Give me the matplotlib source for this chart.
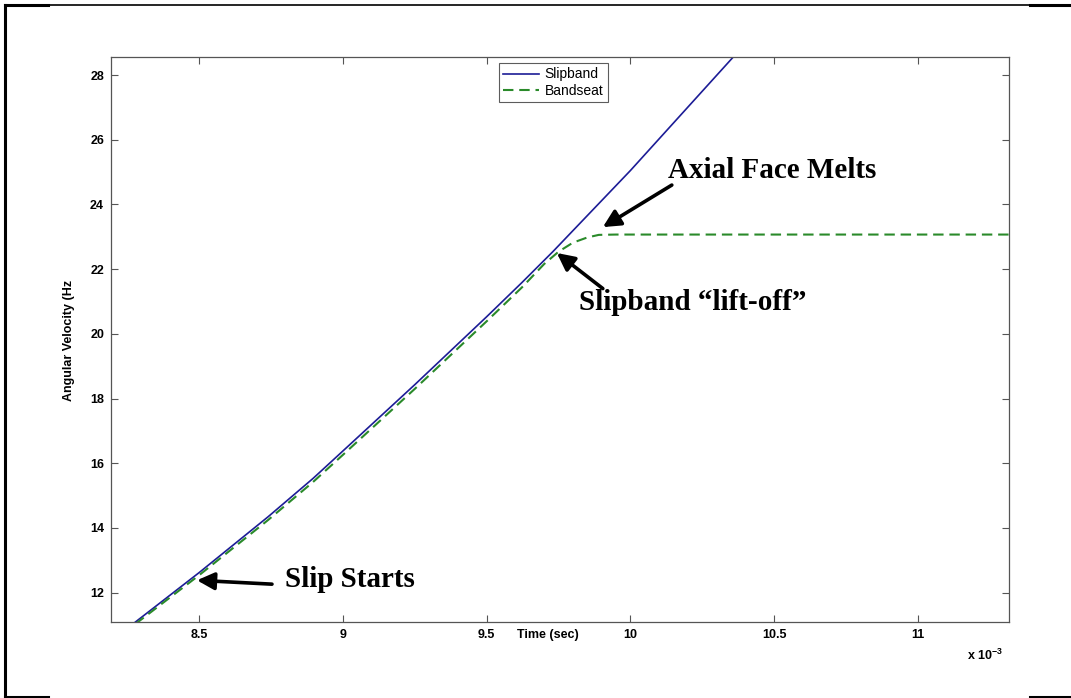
import matplotlib
matplotlib.use("Agg")
import matplotlib.pyplot as plt
from matplotlib.lines import Line2D

# --- data (time in units of 1e-3 s, angular velocity in Hz) ---------------------------
t_slipband = [8.278, 8.50, 8.739, 8.896, 9.00, 9.25, 9.50, 9.623, 9.73, 10.00, 10.37]
w_slipband = [11.09, 12.62, 14.34, 15.53, 16.38, 18.43, 20.53, 21.59, 22.54, 25.05, 28.68]

t_bandseat = [8.278, 8.50, 8.739, 8.896, 9.00, 9.25, 9.50, 9.623, 9.70, 9.75, 9.80,
              9.85, 9.89, 9.95, 11.32]
w_bandseat = [11.03, 12.54, 14.24, 15.42, 16.26, 18.30, 20.39, 21.44, 22.16, 22.54, 22.82,
              22.98, 23.06, 23.07, 23.07]

series_names = ["Slipband", "Bandseat"]
x_ticks = [8.5, 9, 9.5, 10, 10.5, 11]
x_ticklabels = ["8.5", "9", "9.5", "10", "10.5", "11"]
y_ticks = [12, 14, 16, 18, 20, 22, 24, 26, 28]

# annotation text, arrow tip, arrow tail, text anchor (data coords)
notes = [
    ("Axial Face Melts", (9.904, 23.30), (10.144, 24.60), (10.13, 25.06)),
    ("Slipband \u201clift-off\u201d", (9.744, 22.50), (9.904, 21.40), (9.82, 20.98)),
    ("Slip Starts", (8.492, 12.38), (8.753, 12.26), (8.80, 12.39)),
]

W, H = 1071, 698
fig = plt.figure(figsize=(W / 100, H / 100), dpi=100)
ax = fig.add_axes([111 / W, 1 - 622 / H, (1009 - 111) / W, (622 - 57) / H])

ax.plot(t_slipband, w_slipband, color="#1c1c96", lw=1.2, label=series_names[0])
ax.plot(t_bandseat, w_bandseat, color="#2a8a2a", lw=1.5, dashes=(5.0, 2.8),
        label=series_names[1])

ax.set_xlim(8.193, 11.317)
ax.set_ylim(11.09, 28.56)
ax.set_xticks(x_ticks)
ax.set_xticklabels(x_ticklabels)
ax.set_yticks(y_ticks)
ax.tick_params(direction="in", length=5, width=0.8, color="#555555",
               top=True, right=True, labelsize=9, pad=5)
for lab in ax.get_xticklabels() + ax.get_yticklabels():
    lab.set_fontweight("bold")
    lab.set_family("Liberation Sans")
for sp in ax.spines.values():
    sp.set_color("#555555")
    sp.set_linewidth(0.9)

ax.set_xlabel("Time (sec)", fontsize=9, fontweight="bold", family="Liberation Sans")
ax.xaxis.set_label_coords((548 - 111) / 898, -0.012)
ax.set_ylabel("Angular Velocity (Hz", fontsize=9, fontweight="bold",
              family="Liberation Sans")
ax.yaxis.set_label_coords(-(111 - 75) / 898, 1 - (340 - 57) / 565)

fig.text(985 / W, 1 - 655 / H, r"x 10$^{\mathregular{-3}}$", fontsize=9, fontweight="bold",
         family="Liberation Sans", ha="center", va="center")

leg = ax.legend(loc="upper left", bbox_to_anchor=(0.432, 0.989), fancybox=False,
                prop={"family": "Liberation Sans", "size": 10}, handlelength=2.6,
                borderpad=0.3, labelspacing=0.2, handletextpad=0.4, borderaxespad=0)
leg.get_frame().set_edgecolor("#333333")
leg.get_frame().set_linewidth(0.8)

for text, tip, tail, pos in notes:
    ax.annotate("", xy=tip, xytext=tail,
                arrowprops=dict(arrowstyle="-|>", lw=2.6, color="black",
                                mutation_scale=26, shrinkA=0, shrinkB=0))
    ax.text(pos[0], pos[1], text, family="Liberation Serif", fontweight="bold",
            fontsize=21, ha="left", va="center")

# page frame around the figure
def seg(x0, y0, x1, y1, lw):
    fig.add_artist(Line2D([x0 / W, x1 / W], [1 - y0 / H, 1 - y1 / H],
                          color="black", lw=lw, transform=fig.transFigure))

seg(5, 5, 1071, 5, 1.2)
seg(5, 5, 48, 5, 2.2)
seg(1030, 5, 1071, 5, 2.2)
seg(5, 5, 5, 697, 2.2)
seg(5, 697, 48, 697, 2.2)
seg(1030, 697, 1071, 697, 2.2)

fig.savefig("out.png", dpi=100)
